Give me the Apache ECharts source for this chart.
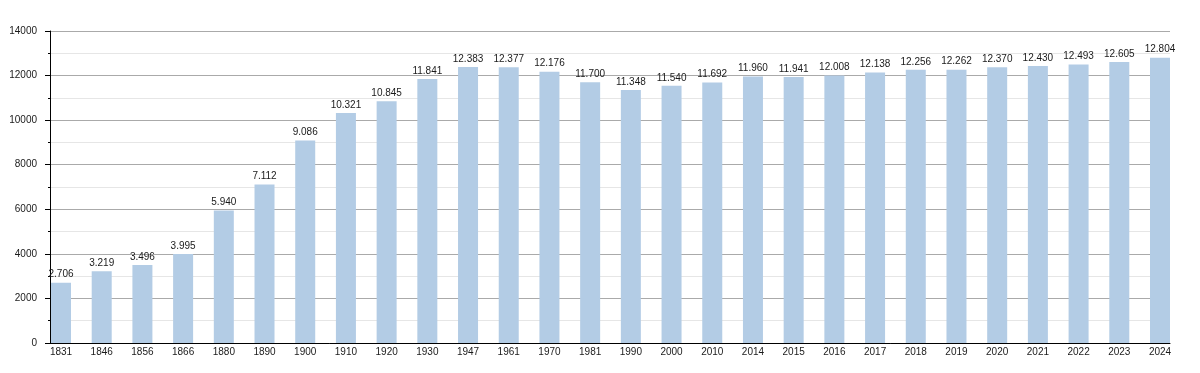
<!DOCTYPE html>
<html><head><meta charset="utf-8">
<script src="https://cdn.jsdelivr.net/npm/echarts@6/dist/echarts.min.js"></script>
<style>html,body{margin:0;padding:0;background:#fff}#c{width:1200px;height:373px}</style>
</head><body><div id="c"></div>
<script>
const years = ['1831','1846','1856','1866','1880','1890','1900','1910','1920','1930','1947','1961','1970','1981','1990','2000','2010','2014','2015','2016','2017','2018','2019','2020','2021','2022','2023','2024'];
const population = [2706,3219,3496,3995,5940,7112,9086,10321,10845,11841,12383,12377,12176,11700,11348,11540,11692,11960,11941,12008,12138,12256,12262,12370,12430,12493,12605,12804];
const yTicks = [0,2000,4000,6000,8000,10000,12000,14000];

function fmt(v){ return String(v).replace(/\B(?=(\d{3})+(?!\d))/g,'.'); }

const yMin = yTicks[0], yMax = yTicks[yTicks.length-1];
const font = 'Liberation Sans, Arial, Helvetica, sans-serif';
const chart = echarts.init(document.getElementById('c'), null, {renderer:'canvas'});
chart.setOption({
  animation:false,
  textStyle:{fontFamily:font},
  grid:[
    {left:50,right:30,top:31,bottom:30},
    {left:61,right:40,top:31,bottom:30}
  ],
  xAxis:[
    {gridIndex:0,type:'category',data:years,show:true,
      axisLine:{lineStyle:{color:'#000',width:1}},
      axisTick:{show:false},axisLabel:{show:false},splitLine:{show:false}},
    {gridIndex:1,type:'category',data:years,boundaryGap:false,
      axisLine:{show:false},axisTick:{show:false},splitLine:{show:false},
      axisLabel:{color:'#1a1a1a',fontSize:10,fontFamily:font,margin:4,interval:0}}
  ],
  yAxis:[
    {gridIndex:0,type:'value',min:yMin,max:yMax,interval:2000,
      axisLine:{show:true,lineStyle:{color:'#000'}},
      axisTick:{show:true,length:5,lineStyle:{color:'#000'}},
      minorTick:{show:true,splitNumber:2,length:2,lineStyle:{color:'#000'}},
      splitLine:{lineStyle:{color:'#aaaaaa'}},
      minorSplitLine:{show:true,lineStyle:{color:'#e6e6e6'}},
      axisLabel:{color:'#1a1a1a',fontSize:10,fontFamily:font,margin:13,formatter:v=>String(v)}},
    {gridIndex:1,type:'value',min:yMin,max:yMax,interval:2000,show:false,
      splitLine:{show:false}}
  ],
  series:[{type:'bar',xAxisIndex:1,yAxisIndex:1,data:population,barWidth:20,clip:false,
    itemStyle:{color:'#b3cce5'},
    label:{show:true,position:'top',distance:3,color:'#1a1a1a',fontSize:10,fontFamily:font,
      formatter:p=>fmt(p.value)}}]
});
</script></body></html>
